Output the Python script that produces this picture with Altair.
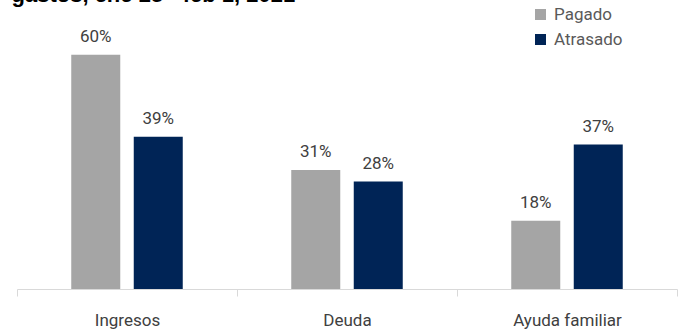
import altair as alt
import pandas as pd

categories = ["Ingresos", "Deuda", "Ayuda familiar"]
series = ["Pagado", "Atrasado"]
pagado = [60, 30.5, 17.5]
atrasado = [39, 27.5, 37]
pagado_lab = ["60%", "31%", "18%"]
atrasado_lab = ["39%", "28%", "37%"]
colors = ["#A5A5A5", "#002456"]
title_text = "gastos, ene 25 - feb 1, 2021"

rows = []
for c, p, a, pl, al in zip(categories, pagado, atrasado, pagado_lab, atrasado_lab):
    rows.append({"cat": c, "serie": "Pagado", "val": p, "lab": pl})
    rows.append({"cat": c, "serie": "Atrasado", "val": a, "lab": al})
df = pd.DataFrame(rows)

FONT = "Roboto"
TXT = "#404040"

x = alt.X("cat:N", sort=categories, title=None,
          scale=alt.Scale(paddingInner=0, paddingOuter=0),
          axis=alt.Axis(labelAngle=0, labelFontSize=17, labelFont=FONT, labelColor=TXT,
                        labelPadding=16, tickBand="extent", tickSize=7,
                        tickColor="#D9D9D9", domainColor="#D9D9D9", grid=False))
xo = alt.XOffset("serie:N", sort=series,
                 scale=alt.Scale(paddingInner=0.216, paddingOuter=0.868))
y = alt.Y("val:Q", scale=alt.Scale(domain=[0, 74], nice=False), axis=None)

bars = alt.Chart(df).mark_bar().encode(
    x=x, xOffset=xo, y=y,
    color=alt.Color("serie:N", sort=series,
                    scale=alt.Scale(domain=series, range=colors),
                    legend=alt.Legend(title=None, orient="none", legendX=515, legendY=6,
                                      symbolType="square", symbolSize=121,
                                      symbolStrokeWidth=0, labelFontSize=17,
                                      labelFont=FONT, labelColor="#595959",
                                      labelOffset=5, rowPadding=7)),
)

labels = alt.Chart(df).mark_text(baseline="alphabetic", dy=-13, fontSize=17,
                                 font=FONT, color=TXT).encode(
    x=x, xOffset=xo, y=y, text="lab:N")

chart = (bars + labels).properties(
    width=660, height=289,
    title=alt.TitleParams(title_text, anchor="start", fontSize=22, font="Liberation Sans",
                          fontWeight="bold", color="#000000", offset=-7, dx=-5),
    autosize=alt.AutoSizeParams(type="none"),
    padding={"left": 17, "top": 0, "right": 6, "bottom": 42},
).configure_view(stroke=None)

chart.save("out.html", embed_options={"renderer": "svg", "actions": False})
